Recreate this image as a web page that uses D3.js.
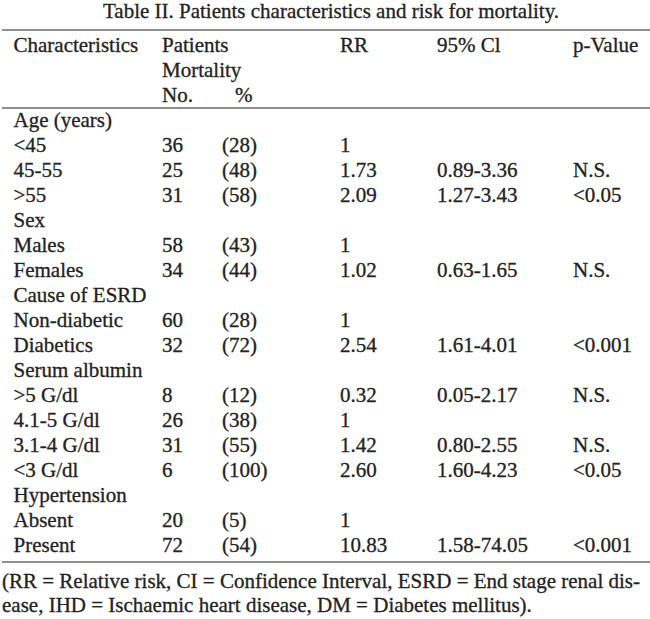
<!DOCTYPE html>
<html>
<head>
<meta charset="utf-8">
<script src="https://cdn.jsdelivr.net/npm/d3@7"></script>
<style>
  body { margin: 0; background: #fff; }
  svg text {
    font-family: "Liberation Serif", "Times New Roman", serif;
    fill: #222;
    stroke: #222;
    stroke-width: 0.3px;
  }
</style>
</head>
<body>
<svg id="table" width="650" height="619"></svg>
<script>
(function() {
    'use strict';

    // Table data
    const title = 'Table II. Patients characteristics and risk for mortality.';
    const headerTop = ['Characteristics', 'Patients', '', 'RR', '95% Cl', 'p-Value'];
    const headerMid = ['', 'Mortality', '', '', '', ''];
    const headerLow = ['', 'No.', '%', '', '', ''];

    const labels = ['Age (years)', '<45', '45-55', '>55', 'Sex', 'Males', 'Females',
        'Cause of ESRD', 'Non-diabetic', 'Diabetics', 'Serum albumin', '>5 G/dl',
        '4.1-5 G/dl', '3.1-4 G/dl', '<3 G/dl', 'Hypertension', 'Absent', 'Present'];
    const counts = ['', '36', '25', '31', '', '58', '34', '', '60', '32', '', '8', '26', '31', '6', '', '20', '72'];
    const percents = ['', '(28)', '(48)', '(58)', '', '(43)', '(44)', '', '(28)', '(72)', '', '(12)', '(38)', '(55)', '(100)', '', '(5)', '(54)'];
    const relRisk = ['', '1', '1.73', '2.09', '', '1', '1.02', '', '1', '2.54', '', '0.32', '1', '1.42', '2.60', '', '1', '10.83'];
    const confInt = ['', '', '0.89-3.36', '1.27-3.43', '', '', '0.63-1.65', '', '', '1.61-4.01', '', '0.05-2.17', '', '0.80-2.55', '1.60-4.23', '', '', '1.58-74.05'];
    const pValues = ['', '', 'N.S.', '<0.05', '', '', 'N.S.', '', '', '<0.001', '', 'N.S.', '', 'N.S.', '<0.05', '', '', '<0.001'];

    const footnote = [
        '(RR = Relative risk, CI = Confidence Interval, ESRD = End stage renal dis-',
        'ease, IHD = Ischaemic heart disease, DM = Diabetes mellitus).'
    ];

    const columns = ['label', 'no', 'pct', 'rr', 'ci', 'p'];
    const FONT = '21px';

    const svg = d3.select('#table');

    // Column positions
    const x = d3.scaleOrdinal()
        .domain(columns)
        .range([13.5, 162, 222, 340, 437, 573]);

    // Row positions (baselines)
    const headerRows = [headerTop, headerMid, headerLow];
    const yHead = d3.scalePoint()
        .domain(d3.range(headerRows.length))
        .range([52, 102]);

    const yBody = d3.scalePoint()
        .domain(d3.range(labels.length))
        .range([127, 552]);

    // Title
    svg.append('text')
        .attr('x', 331)
        .attr('y', 18)
        .attr('text-anchor', 'middle')
        .style('font-size', FONT)
        .text(title);

    // Rules
    const rules = [30, 108, 562];
    svg.selectAll('line.rule')
        .data(rules)
        .join('line')
        .attr('class', 'rule')
        .attr('x1', 2)
        .attr('x2', 650)
        .attr('y1', d => d)
        .attr('y2', d => d)
        .attr('stroke', '#6a6a6a')
        .attr('stroke-width', 1.6);

    // Header
    headerRows.forEach((row, i) => {
        svg.append('g')
            .selectAll('text')
            .data(row.map((t, j) => ({ t, col: columns[j] })).filter(d => d.t))
            .join('text')
            .attr('x', d => d.col === 'pct' ? x(d.col) + 13 : x(d.col))
            .attr('y', yHead(i))
            .style('font-size', FONT)
            .text(d => d.t);
    });

    // Body
    const bodyCols = [labels, counts, percents, relRisk, confInt, pValues];
    bodyCols.forEach((vals, j) => {
        svg.append('g')
            .selectAll('text')
            .data(vals.map((t, i) => ({ t, i })).filter(d => d.t))
            .join('text')
            .attr('x', x(columns[j]))
            .attr('y', d => yBody(d.i))
            .style('font-size', FONT)
            .text(d => d.t);
    });

    // Footnote
    svg.selectAll('text.foot')
        .data(footnote)
        .join('text')
        .attr('class', 'foot')
        .attr('x', 2)
        .attr('y', (d, i) => 588 + i * 24)
        .style('font-size', FONT)
        .text(d => d);
})();
</script>
</body>
</html>
